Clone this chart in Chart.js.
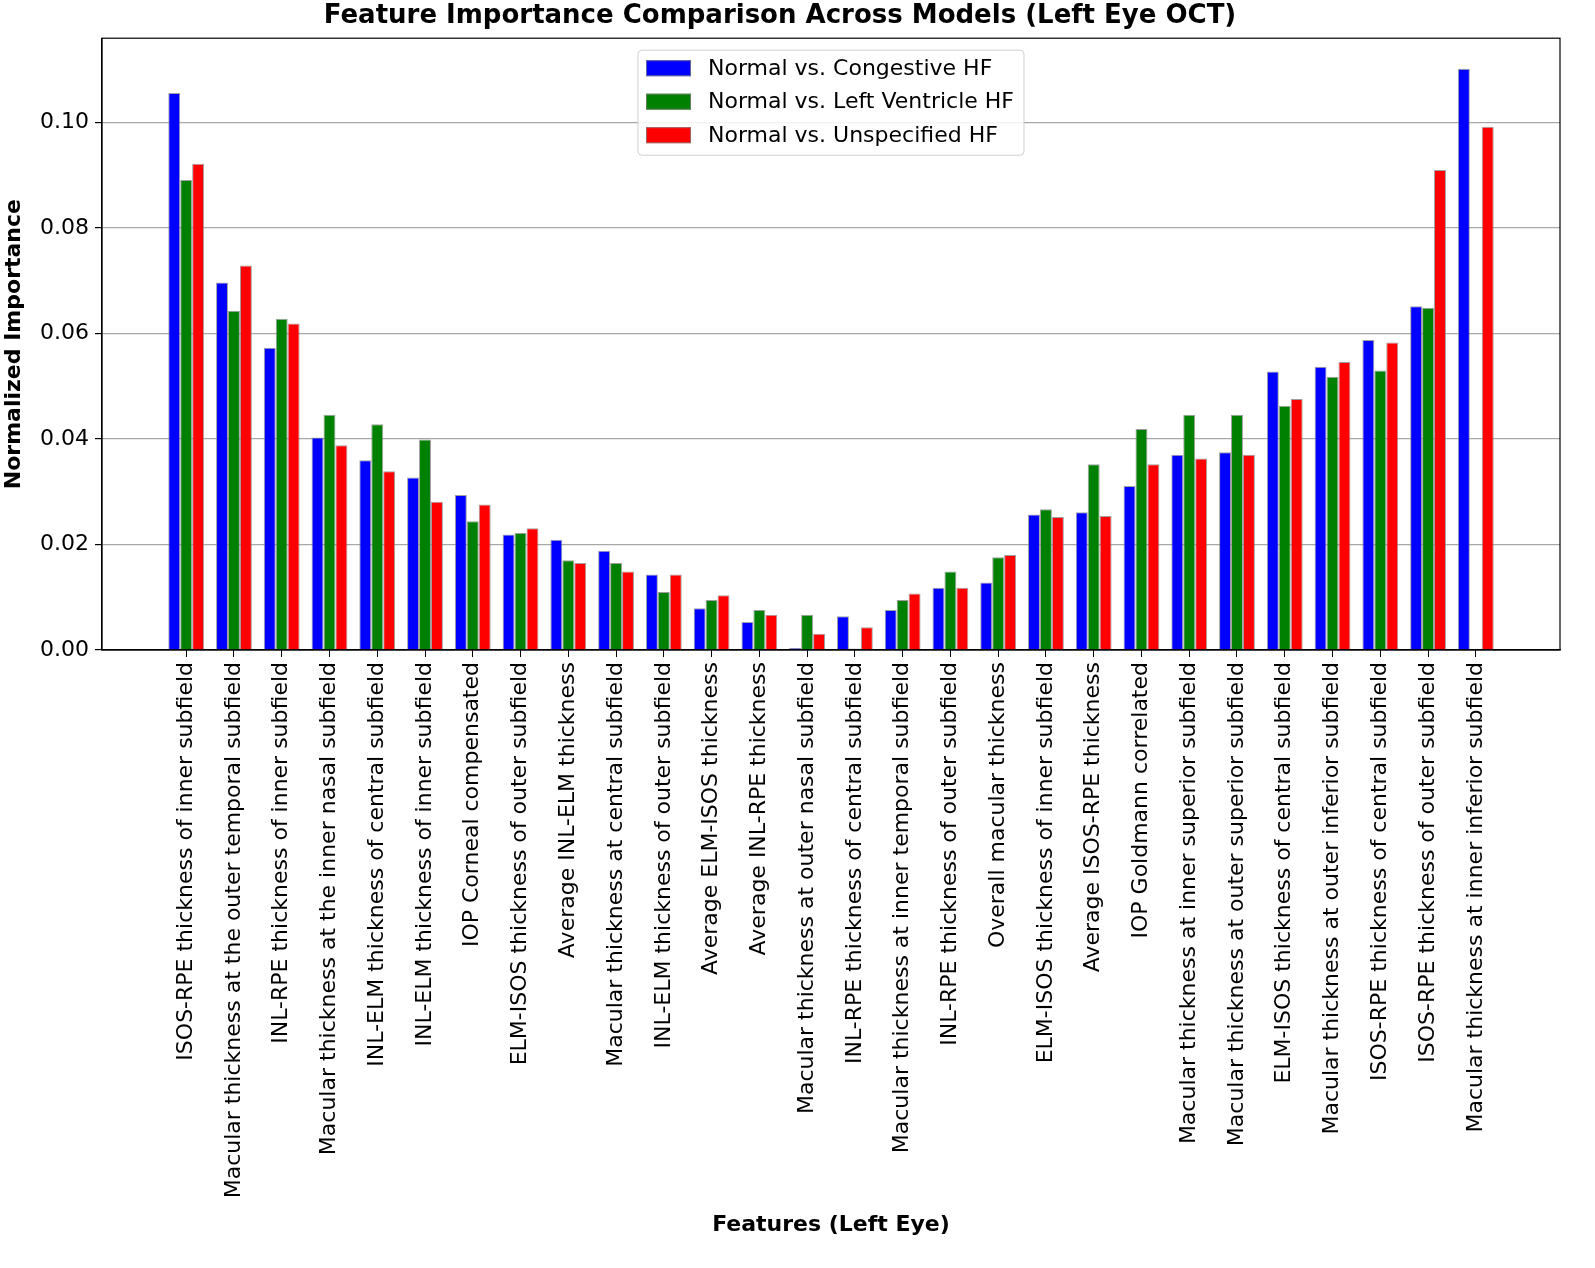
<!DOCTYPE html>
<html>
<head>
<meta charset="utf-8">
<script src="https://cdn.jsdelivr.net/npm/chart.js@4.4.1/dist/chart.umd.min.js"></script>
<style>
  html, body { margin: 0; padding: 0; background: #ffffff; }
  #wrap { width: 1595px; height: 1268px; position: relative; }
</style>
</head>
<body>
<div id="wrap"><canvas id="c" width="1595" height="1268"></canvas></div>
<script>
const categories = [
  "ISOS-RPE thickness of inner subfield",
  "Macular thickness at the outer temporal subfield",
  "INL-RPE thickness of inner subfield",
  "Macular thickness at the inner nasal subfield",
  "INL-ELM thickness of central subfield",
  "INL-ELM thickness of inner subfield",
  "IOP Corneal compensated",
  "ELM-ISOS thickness of outer subfield",
  "Average INL-ELM thickness",
  "Macular thickness at central subfield",
  "INL-ELM thickness of outer subfield",
  "Average ELM-ISOS thickness",
  "Average INL-RPE thickness",
  "Macular thickness at outer nasal subfield",
  "INL-RPE thickness of central subfield",
  "Macular thickness at inner temporal subfield",
  "INL-RPE thickness of outer subfield",
  "Overall macular thickness",
  "ELM-ISOS thickness of inner subfield",
  "Average ISOS-RPE thickness",
  "IOP Goldmann correlated",
  "Macular thickness at inner superior subfield",
  "Macular thickness at outer superior subfield",
  "ELM-ISOS thickness of central subfield",
  "Macular thickness at outer inferior subfield",
  "ISOS-RPE thickness of central subfield",
  "ISOS-RPE thickness of outer subfield",
  "Macular thickness at inner inferior subfield"
];
const seriesNames = [
  "Normal vs. Congestive HF",
  "Normal vs. Left Ventricle HF",
  "Normal vs. Unspecified HF"
];
const congestiveHF = [0.1056, 0.0697, 0.0573, 0.0403, 0.0360, 0.0327, 0.0294, 0.0219, 0.0209, 0.0188, 0.0143, 0.0079, 0.0053, 0.0004, 0.0064, 0.0076, 0.0118, 0.0128, 0.0257, 0.0261, 0.0311, 0.0370, 0.0375, 0.0528, 0.0537, 0.0588, 0.0652, 0.1102];
const leftVentricleHF = [0.0891, 0.0643, 0.0628, 0.0446, 0.0428, 0.0399, 0.0244, 0.0222, 0.0170, 0.0165, 0.0110, 0.0095, 0.0076, 0.0067, 0.0003, 0.0095, 0.0149, 0.0176, 0.0267, 0.0352, 0.0419, 0.0446, 0.0446, 0.0463, 0.0518, 0.0530, 0.0649, 0.0];
const unspecifiedHF = [0.0922, 0.0729, 0.0619, 0.0388, 0.0339, 0.0281, 0.0276, 0.0231, 0.0165, 0.0149, 0.0143, 0.0104, 0.0067, 0.0031, 0.0043, 0.0107, 0.0118, 0.0180, 0.0252, 0.0254, 0.0352, 0.0363, 0.0370, 0.0476, 0.0546, 0.0583, 0.0910, 0.0992];
const yTicks = [0.00, 0.02, 0.04, 0.06, 0.08, 0.10];

const colors = ['#0000ff', '#008000', '#ff0000'];
const FONT = "'DejaVu Sans', sans-serif";

const toPoints = arr => arr.map((v, i) => ({ x: i, y: v }));

const frameLegendPlugin = {
  id: 'frameLegend',
  afterDraw(chart) {
    const { ctx, chartArea: a } = chart;
    ctx.save();
    // plot frame
    ctx.strokeStyle = '#000000';
    ctx.lineWidth = 1.2;
    ctx.strokeRect(a.left, a.top, a.right - a.left, a.bottom - a.top);

    // legend (upper center, inside plot)
    ctx.font = "22px " + FONT;
    const labels = chart.data.datasets.map(d => d.label);
    const maxW = Math.max(...labels.map(t => ctx.measureText(t).width));
    const w = 70 + maxW + 10;
    const h = 105;
    const left = (a.left + a.right) / 2 - w / 2;
    const top = a.top + 12;
    const r = 4;
    ctx.beginPath();
    ctx.moveTo(left + r, top);
    ctx.lineTo(left + w - r, top);
    ctx.quadraticCurveTo(left + w, top, left + w, top + r);
    ctx.lineTo(left + w, top + h - r);
    ctx.quadraticCurveTo(left + w, top + h, left + w - r, top + h);
    ctx.lineTo(left + r, top + h);
    ctx.quadraticCurveTo(left, top + h, left, top + h - r);
    ctx.lineTo(left, top + r);
    ctx.quadraticCurveTo(left, top, left + r, top);
    ctx.closePath();
    ctx.fillStyle = 'rgba(255,255,255,0.85)';
    ctx.fill();
    ctx.strokeStyle = '#d0d0d0';
    ctx.lineWidth = 1;
    ctx.stroke();

    chart.data.datasets.forEach((d, i) => {
      const cy = top + 18 + i * 33.5;
      ctx.fillStyle = d.backgroundColor;
      ctx.fillRect(left + 8, cy - 8, 45, 16);
      ctx.strokeStyle = 'rgba(128,128,128,0.8)';
      ctx.lineWidth = 1;
      ctx.strokeRect(left + 8.5, cy - 7.5, 44, 15);
      ctx.fillStyle = '#000000';
      ctx.textAlign = 'left';
      ctx.textBaseline = 'middle';
      ctx.fillText(d.label, left + 70, cy + 1);
    });
    ctx.restore();
  }
};

const nCat = categories.length;
const margin = (nCat - 1 + 0.75) * 0.05;

new Chart(document.getElementById('c'), {
  type: 'bar',
  data: {
    datasets: [
      { label: seriesNames[0], data: toPoints(congestiveHF), backgroundColor: colors[0] },
      { label: seriesNames[1], data: toPoints(leftVentricleHF), backgroundColor: colors[1] },
      { label: seriesNames[2], data: toPoints(unspecifiedHF), backgroundColor: colors[2] }
    ].map(d => Object.assign(d, {
      borderColor: 'rgba(128,128,128,0.75)',
      borderWidth: 1,
      categoryPercentage: 0.75,
      barPercentage: 1.0
    }))
  },
  options: {
    responsive: false,
    animation: false,
    devicePixelRatio: 1,
    layout: { padding: { left: 0, right: 35, top: 0, bottom: 0 } },
    plugins: {
      legend: { display: false },
      tooltip: { enabled: false },
      title: {
        display: true,
        text: 'Feature Importance Comparison Across Models (Left Eye OCT)',
        color: '#000000',
        font: { family: FONT, size: 26, weight: 'bold' },
        padding: { top: 1, bottom: 6 }
      }
    },
    scales: {
      x: {
        type: 'linear',
        min: -0.375 - margin,
        max: nCat - 1 + 0.375 + margin,
        offset: false,
        afterBuildTicks: s => { s.ticks = categories.map((_, i) => ({ value: i })); },
        afterFit: s => { s.height = 1268 - 650; },
        ticks: {
          autoSkip: false,
          maxRotation: 90,
          minRotation: 90,
          padding: 5,
          color: '#000000',
          font: { family: FONT, size: 22 },
          callback: v => categories[v]
        },
        grid: { offset: false, drawOnChartArea: false, drawTicks: true, tickLength: 7, tickColor: '#000000' },
        border: { display: true, color: '#000000', width: 1.2 },
        title: {
          display: true,
          text: 'Features (Left Eye)',
          color: '#000000',
          font: { family: FONT, size: 22, weight: 'bold' },
          padding: { top: 0, bottom: 30 }
        }
      },
      y: {
        min: 0,
        max: 0.1160,
        afterBuildTicks: s => { s.ticks = yTicks.map(v => ({ value: v })); },
        afterFit: s => { s.width = 102; },
        ticks: {
          padding: 6,
          color: '#000000',
          font: { family: FONT, size: 22 },
          callback: v => v.toFixed(2)
        },
        grid: { color: '#a8a8a8', lineWidth: 1.2, tickLength: 7, tickColor: '#000000', drawTicks: true },
        border: { display: true, color: '#000000', width: 1.2 },
        title: {
          display: true,
          text: 'Normalized Importance',
          color: '#000000',
          font: { family: FONT, size: 22, weight: 'bold' },
          padding: { top: 1, bottom: 0 }
        }
      }
    }
  },
  plugins: [frameLegendPlugin]
});
</script>
</body>
</html>
